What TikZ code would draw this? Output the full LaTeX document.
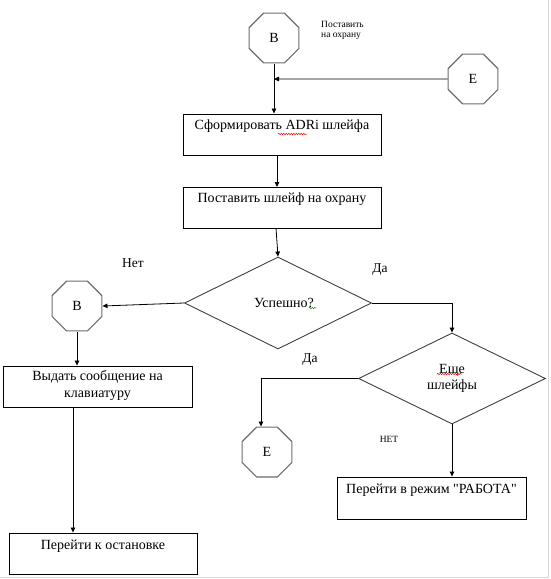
\documentclass[tikz,border=0pt]{standalone}
\usepackage{fontspec}
\setmainfont{Liberation Serif}
\newfontfamily\quotefont{Liberation Serif}
\usetikzlibrary{shapes.geometric,arrows.meta,decorations.pathmorphing}
\begin{document}
\begin{tikzpicture}[x=1pt,y=-1pt,
  octa/.style={regular polygon,regular polygon sides=8,draw=gray!85!black,line width=1.1pt,
     minimum size=54pt,inner sep=0pt,font=\fontsize{14}{16}\selectfont},
  stepbox/.style={draw=black,line width=0.9pt,rectangle,inner sep=0pt},
  boxtext/.style={anchor=north,font=\fontsize{14}{17}\selectfont,align=center,inner sep=0pt},
  decis/.style={diamond,draw=black!75,line width=0.9pt,inner sep=0pt,aspect=2,
     font=\fontsize{14}{16}\selectfont,align=center},
  conn/.style={line width=0.8pt,draw=black},
  arr/.style={conn,-{Triangle[length=5pt,width=4.5pt]}},
  lbl/.style={font=\fontsize{13.5}{16}\selectfont,inner sep=0pt},
  small/.style={font=\fontsize{9.5}{10.5}\selectfont,inner sep=0pt},
  wavy/.style={decorate,decoration={snake,amplitude=0.7pt,segment length=2.5pt},line width=0.5pt}
]
\useasboundingbox (0,0) rectangle (550,579);
\draw[gray!30,line width=1pt] (548,0) -- (548,577.5) -- (0,577.5);

% octagons
\node[octa] (B1) at (274,38) {В};
\node[octa] (E1) at (473,79) {Е};
\node[octa] (B2) at (77,306) {В};
\node[octa] (E2) at (267,452) {Е};

% boxes
\node[stepbox,minimum width=198pt,minimum height=41pt,
  label={[boxtext,yshift=-6pt]north:Сформировать ADRi шлейфа}] (box1) at (282,134.5) {};
\node[stepbox,minimum width=198pt,minimum height=41pt,
  label={[boxtext,yshift=-6pt]north:Поставить шлейф на охрану}] (box2) at (282,207.5) {};
\node[stepbox,minimum width=189pt,minimum height=41pt,
  label={[boxtext,yshift=-5pt]north:Выдать сообщение на\\клавиатуру}] (box3) at (97.5,386.5) {};
\node[stepbox,minimum width=188pt,minimum height=41pt,
  label={[boxtext,yshift=-7pt]north:Перейти к остановке}] (box4) at (103,553.5) {};
\node[stepbox,minimum width=189pt,minimum height=42pt,
  label={[boxtext,yshift=-7pt]north:Перейти в режим {\quotefont"}РАБОТА{\quotefont"}}] (box5) at (431.5,498) {};

% decisions
\node[decis,minimum width=187pt,minimum height=92pt] (D1) at (278,303) {\hspace*{12pt}Успешно?};
\node[decis,minimum width=187pt,minimum height=91pt] (D2) at (452,378.5) {Еще\\шлейфы};

% labels
\node[small,align=left,anchor=north west] (lab0) at (321,21) {Поставить\\на охрану};
\node[lbl] (lab1) at (133,263) {Нет};
\node[lbl] (lab2) at (380,270) {Да};
\node[lbl] (lab3) at (310,360) {Да};
\node[small] (lab4) at (389,439) {НЕТ};

% spell-check marks
\draw[wavy,red] (278,134) -- (307,134);
\draw[wavy,green!60!black] (309,308) -- (316,308);
\draw[wavy,red] (437,374) -- (462,374);

% connectors
\coordinate (j1) at (274,79);
\draw[arr] (B1.south) -- (B1.south |- box1.north);
\draw[arr] (E1.west) -- (j1);
\draw[arr] (277,155) -- (277,187);
\draw[arr] (276,228) -- (D1.north);
\draw[arr] (D1.east) -| (D2.north);
\draw[arr] (D1.west) -- (B2.east);
\draw[arr] (B2.south) -- (B2.south |- box3.north);
\coordinate (k1) at (73,407);
\draw[arr] (k1) -- (k1 |- box4.north);
\coordinate (k2) at (261,378.5);
\draw[arr] (D2.west) -- (k2) -- (k2 |- E2.north);
\draw[arr] (D2.south) -- (D2.south |- box5.north);
\end{tikzpicture}
\end{document}
